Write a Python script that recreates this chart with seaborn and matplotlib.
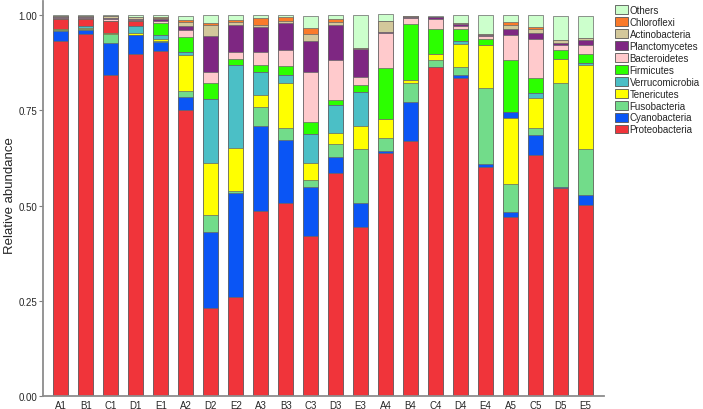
import pandas as pd
import seaborn as sns
import numpy as np
import matplotlib.pyplot as plt
from matplotlib.patches import Patch

sns.set_style("white")
plt.rcParams['font.family'] = ['Liberation Sans', 'DejaVu Sans']

samples = ["A1", "B1", "C1", "D1", "E1", "A2", "D2", "E2", "A3", "B3", "C3",
           "D3", "E3", "A4", "B4", "C4", "D4", "E4", "A5", "C5", "D5", "E5"]

# relative abundance per phylum
proteobacteria = [0.933, 0.951, 0.843, 0.897, 0.907, 0.751, 0.230, 0.259, 0.486, 0.508, 0.419,
                  0.587, 0.445, 0.638, 0.670, 0.863, 0.835, 0.602, 0.469, 0.633, 0.545, 0.501]
cyanobacteria = [0.025, 0.011, 0.085, 0.052, 0.022, 0.035, 0.202, 0.273, 0.222, 0.164, 0.131,
                 0.042, 0.061, 0.006, 0.102, 0.002, 0.007, 0.007, 0.013, 0.052, 0.005, 0.026]
fusobacteria = [0.003, 0.003, 0.022, 0.000, 0.003, 0.015, 0.043, 0.007, 0.050, 0.031, 0.017,
                0.034, 0.142, 0.033, 0.049, 0.017, 0.022, 0.199, 0.074, 0.020, 0.273, 0.123]
tenericutes = [0.003, 0.002, 0.004, 0.004, 0.005, 0.094, 0.136, 0.112, 0.033, 0.118, 0.046,
               0.029, 0.060, 0.051, 0.010, 0.016, 0.060, 0.114, 0.175, 0.079, 0.063, 0.219]
verrucomicrobia = [0.000, 0.004, 0.000, 0.020, 0.012, 0.009, 0.169, 0.218, 0.061, 0.022, 0.074,
                   0.073, 0.091, 0.000, 0.000, 0.000, 0.009, 0.000, 0.000, 0.011, 0.000, 0.006]
# segments drawn in the picture with a repeated colour (no legend entry)
extra_blue = [0, 0, 0, 0, 0, 0, 0, 0, 0, 0, 0,
              0, 0, 0, 0, 0, 0, 0, 0.016, 0, 0, 0]
extra_red = [0.026, 0.018, 0.031, 0.011, 0, 0, 0, 0, 0, 0, 0,
             0, 0, 0, 0, 0, 0, 0, 0, 0, 0, 0]
firmicutes = [0.000, 0.000, 0.000, 0.000, 0.030, 0.040, 0.042, 0.016, 0.017, 0.023, 0.032,
              0.012, 0.017, 0.133, 0.147, 0.067, 0.032, 0.016, 0.135, 0.039, 0.024, 0.022]
bacteroidetes = [0.002, 0.003, 0.004, 0.004, 0.006, 0.017, 0.030, 0.018, 0.035, 0.044, 0.131,
                 0.105, 0.023, 0.092, 0.015, 0.026, 0.007, 0.007, 0.066, 0.103, 0.013, 0.024]
planctomycetes = [0.003, 0.004, 0.003, 0.003, 0.005, 0.012, 0.093, 0.072, 0.065, 0.070, 0.083,
                  0.092, 0.072, 0.003, 0.002, 0.004, 0.004, 0.003, 0.017, 0.016, 0.004, 0.015]
actinobacteria = [0.002, 0.002, 0.006, 0.005, 0.004, 0.010, 0.030, 0.008, 0.005, 0.006, 0.018,
                  0.007, 0.004, 0.028, 0.002, 0.001, 0.003, 0.003, 0.009, 0.012, 0.008, 0.004]
chloroflexi = [0.000, 0.000, 0.000, 0.000, 0.001, 0.004, 0.005, 0.005, 0.018, 0.009, 0.016,
               0.010, 0.000, 0.000, 0.000, 0.000, 0.000, 0.000, 0.007, 0.005, 0.000, 0.000]
others = [0.003, 0.002, 0.002, 0.004, 0.005, 0.012, 0.021, 0.012, 0.009, 0.006, 0.032,
          0.009, 0.085, 0.018, 0.002, 0.002, 0.021, 0.050, 0.019, 0.030, 0.063, 0.059]

red = "#F0343A"
blue = "#0A55F5"
# bottom to top
layers = [
    ("Proteobacteria", proteobacteria, red),
    ("Cyanobacteria", cyanobacteria, blue),
    ("Fusobacteria", fusobacteria, "#72DC8A"),
    ("Tenericutes", tenericutes, "#FFFF00"),
    ("Verrucomicrobia", verrucomicrobia, "#4BBFC6"),
    ("_extra_blue", extra_blue, blue),
    ("_extra_red", extra_red, red),
    ("Firmicutes", firmicutes, "#2CFF00"),
    ("Bacteroidetes", bacteroidetes, "#FFCACC"),
    ("Planctomycetes", planctomycetes, "#7E2782"),
    ("Actinobacteria", actinobacteria, "#D3C89B"),
    ("Chloroflexi", chloroflexi, "#FA7A2A"),
    ("Others", others, "#CCFFCC"),
]

df = pd.DataFrame({name: vals for name, vals, _ in layers}, index=samples)
cum = df.cumsum(axis=1)

fig = plt.figure(figsize=(7.03, 4.10), dpi=100)
ax = fig.add_axes([0.0607, 0.0317, 0.798, 0.963])

# draw cumulative bars from the top layer down so each one covers the next
for name, _, color in reversed(layers):
    plot_df = pd.DataFrame({"sample": samples, "value": cum[name].values})
    sns.barplot(data=plot_df, x="sample", y="value", order=samples, color=color,
                saturation=1, width=0.6, edgecolor="#666666", linewidth=0.5,
                errorbar=None, ax=ax)

ax.set_xlim(-0.73, len(samples) - 1 + 0.73)
ax.set_ylim(0, 1.037)
ax.set_yticks([0, 0.25, 0.5, 0.75, 1.0])
ax.set_yticklabels(["0.00", "0.25", "0.50", "0.75", "1.00"])
ax.set_xlabel("")
ax.set_ylabel("Relative abundance", fontsize=9.5)
ax.yaxis.set_label_coords(-0.047, 0.51)
ax.tick_params(axis="y", direction="out", length=3, width=0.8, color="#808080",
               labelsize=7, pad=1, left=True)
ax.tick_params(axis="x", length=0, labelsize=7, pad=3)

sns.despine(ax=ax)
for side in ["left", "bottom"]:
    ax.spines[side].set_color("#8c8c8c")
    ax.spines[side].set_linewidth(1.3)

handles = [Patch(facecolor=c, edgecolor="#555555", linewidth=0.6, label=n)
           for n, _, c in reversed(layers) if not n.startswith("_")]
fig.legend(handles=handles, loc="upper left", bbox_to_anchor=(615 / 703, 1 - 6 / 410),
           frameon=False, fontsize=7.0, handlelength=1.3, handleheight=1.0,
           handletextpad=0.2, labelspacing=0.2, borderaxespad=0, borderpad=0)

fig.savefig("out.png", dpi=100)
